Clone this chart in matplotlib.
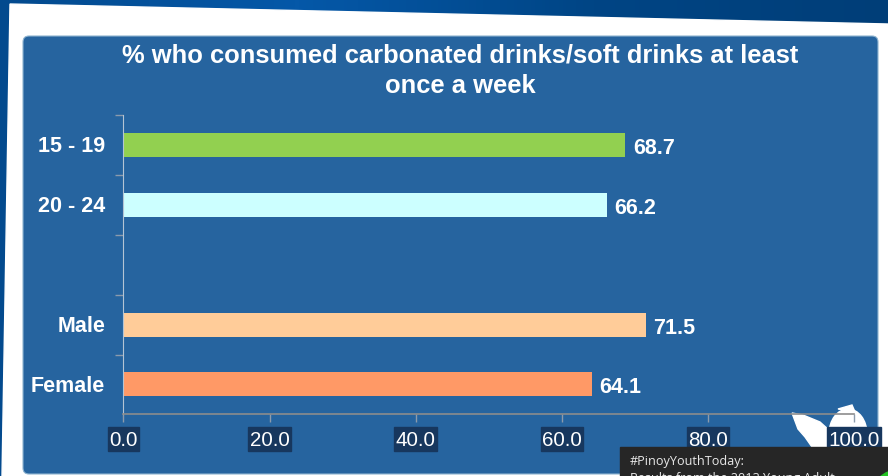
import matplotlib
matplotlib.use('Agg')
import matplotlib.pyplot as plt
from matplotlib.patches import FancyBboxPatch, Polygon, Rectangle, Ellipse, Circle
from matplotlib.transforms import ScaledTranslation
import numpy as np

categories = ['15 - 19', '20 - 24', '', 'Male', 'Female']
values = [68.7, 66.2, np.nan, 71.5, 64.1]
bar_colors = ['#92D050', '#CCFFFF', 'none', '#FFCC99', '#FF9966']
xticks = [0, 20, 40, 60, 80, 100]
title = '% who consumed carbonated drinks/soft drinks at least\nonce a week'
caption = '#PinoyYouthToday:\nResults from the 2013 Young Adult'

plt.rcParams['font.family'] = ['Liberation Sans', 'DejaVu Sans']

fig = plt.figure(figsize=(8.88, 4.77), dpi=100)

# slide background, in pixel coordinates
bg = fig.add_axes([0, 0, 1, 1])
grad = np.linspace(0, 1, 256).reshape(1, -1)
bg.imshow(grad, extent=(0, 888, 477, 0), aspect='auto', cmap=matplotlib.colors.LinearSegmentedColormap.from_list(
    'slide', ['#034A8E', '#0558A8', '#004585', '#003E78']))
bg.axis('off')
bg.add_patch(Polygon([[10, 5], [888, 25], [888, 477], [2, 477]], color='white'))
bg.add_patch(FancyBboxPatch((27, 41), 847, 430, boxstyle='round,pad=4,rounding_size=6',
                            fc='#26649F', ec='#8FB4D0', lw=0.8))

# bird behind the tick labels
bg.add_patch(Polygon([[792, 414], [803, 416], [820, 423], [830, 432], [832, 448], [812, 448],
                      [805, 438], [798, 430], [795, 422]], color='white'))
bg.add_patch(Ellipse((848, 435), 38, 50, color='white'))
bg.add_patch(Polygon([[838, 410], [852, 406], [855, 413]], color='white'))
bg.set_xlim(0, 888)
bg.set_ylim(477, 0)

ax = fig.add_axes([123.3 / 888, 1 - 415.4 / 477, 731 / 888, 299.5 / 477])
ax.patch.set_visible(False)
y = np.arange(len(categories))
ax.barh(y, values, height=0.4, color=bar_colors)
ax.set_xlim(0, 100)
ax.set_ylim(len(categories) - 0.5, -0.5)
ax.set_yticks(y - 0.5)
ax.set_yticks(y[[0, 1, 3, 4]], labels=[categories[i] for i in [0, 1, 3, 4]], minor=True)
ax.tick_params(axis='y', which='major', length=6, width=1, color='#8C9BAC', labelleft=False)
ax.tick_params(axis='y', which='minor', length=0, pad=13, labelcolor='white', labelsize=15.5)
for lab in ax.get_yticklabels(minor=True):
    lab.set_fontweight('bold')
    lab.set_verticalalignment('center_baseline')
    lab.set_transform(lab.get_transform() + ScaledTranslation(0, 1.5 / 100, fig.dpi_scale_trans))
ax.set_xticks(xticks)
ax.set_xticklabels(['%.1f' % t for t in xticks], color='white', fontsize=14.9)
ax.tick_params(axis='x', length=6, width=1, color='#8C9BAC', pad=5.5)
for s in ['top', 'right']:
    ax.spines[s].set_visible(False)
ax.spines['left'].set_color('#B4C4D4')
ax.spines['bottom'].set_color('#8C8C8C')
ax.spines['bottom'].set_linewidth(1.2)

for yi, v in zip(y, values):
    if not np.isnan(v):
        ax.text(v + 1, yi, '%.1f' % v, color='white', fontsize=15.5, fontweight='bold',
                va='center_baseline', ha='left')

fig.text(460 / 888, 1 - 70.5 / 477, title, color='white', fontsize=18.35, fontweight='bold',
         ha='center', va='center', linespacing=1.36)

# dark boxes behind the x tick labels, as tall as in the slide
fig.canvas.draw()
for lab in ax.get_xticklabels():
    bb = lab.get_window_extent()
    bg.add_patch(Rectangle((bb.x0 - 1.5, 428), bb.width + 3, 24, color='#17375E'))

# caption box over the bottom right corner
over = fig.add_axes([0, 0, 1, 1], zorder=5)
over.set_xlim(0, 888)
over.set_ylim(477, 0)
over.axis('off')
over.add_patch(Rectangle((620, 448), 268, 29, color='#262626'))
over.add_patch(Circle((898, 497), 26, color='#22C422'))
over.text(630, 455, caption, color='#E8E8E8', fontsize=9.1, family=['Open Sans', 'DejaVu Sans'],
          va='top', ha='left', linespacing=1.4)

fig.savefig('out.png', dpi=100)
